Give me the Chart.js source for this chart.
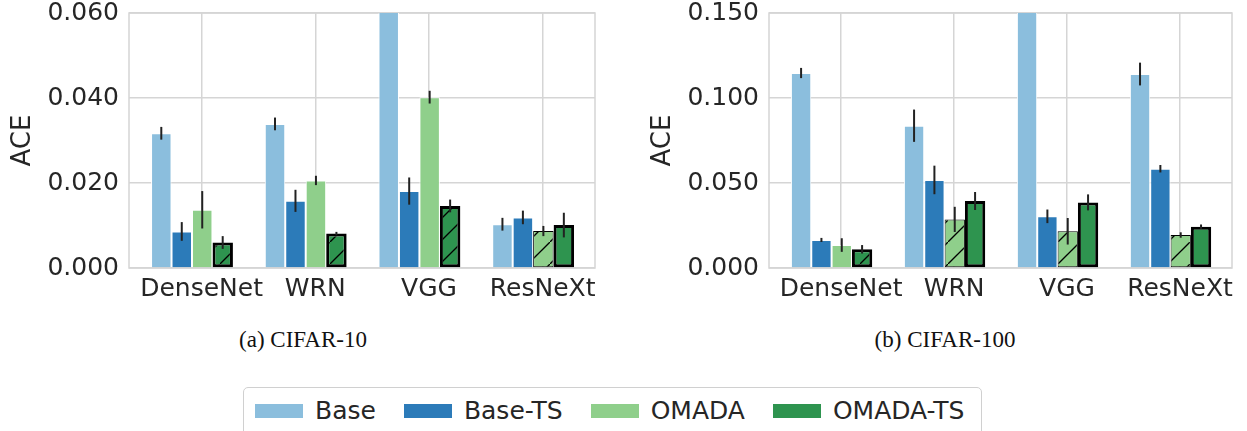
<!DOCTYPE html>
<html>
<head>
<meta charset="utf-8">
<script src="https://cdn.jsdelivr.net/npm/chart.js@4"></script>
<style>
  body { margin: 0; background: #fff; }
  #wrap { position: relative; width: 1247px; height: 431px; overflow: hidden; }
  canvas { position: absolute; top: 0; }
  .caption { position: absolute; top: 327px; font-family: "Liberation Serif", serif; font-size: 23px; color: #111; transform: translateX(-50%); white-space: nowrap; }
  #legend { position: absolute; left: 243px; top: 387px; width: 739px; height: 60px; border: 1.5px solid #d0d0d0; border-radius: 5px; box-sizing: border-box;
            display: flex; align-items: flex-start; padding: 8px 0 0 11px; font-family: "DejaVu Sans", sans-serif; font-size: 25px; color: #262626; white-space: nowrap; }
  .item { display: flex; align-items: center; flex-shrink: 0; margin-right: 28px; line-height: 30px; }
  .sw { width: 48px; height: 14px; margin-right: 12px; flex-shrink: 0; }
</style>
</head>
<body>
<div id="wrap">
  <canvas id="c10" width="610" height="310" style="left:0"></canvas>
  <canvas id="c100" width="607" height="310" style="left:640px"></canvas>
  <div class="caption" style="left:303px">(a) CIFAR-10</div>
  <div class="caption" style="left:945px">(b) CIFAR-100</div>
  <div id="legend"></div>
</div>
<script>
const models = ['DenseNet', 'WRN', 'VGG', 'ResNeXt'];
const seriesNames = ['Base', 'Base-TS', 'OMADA', 'OMADA-TS'];
const seriesColors = ['#8bbedd', '#2c7bb9', '#8fcf8b', '#2e944f'];

// CIFAR-10
const c10Base = [0.0317, 0.0339, 0.0900, 0.0103];
const c10BaseTS = [0.0086, 0.0158, 0.0181, 0.0119];
const c10Omada = [0.0137, 0.0206, 0.0402, 0.0087];
const c10OmadaTS = [0.0060, 0.0081, 0.0146, 0.0101];
const c10BaseErr = [0.0015, 0.0015, 0.0030, 0.0015];
const c10BaseTSErr = [0.0022, 0.0026, 0.0032, 0.0016];
const c10OmadaErr = [0.0044, 0.0011, 0.0015, 0.0012];
const c10OmadaTSErr = [0.0015, 0.0004, 0.0015, 0.0029];
const c10Ticks = [0, 0.02, 0.04, 0.06];

// CIFAR-100
const c100Base = [0.1147, 0.0837, 0.2000, 0.1141];
const c100BaseTS = [0.0165, 0.0518, 0.0304, 0.0584];
const c100Omada = [0.0135, 0.0286, 0.0216, 0.0194];
const c100OmadaTS = [0.0110, 0.0394, 0.0386, 0.0243];
const c100BaseErr = [0.0030, 0.0095, 0.0100, 0.0067];
const c100BaseTSErr = [0.0012, 0.0084, 0.0040, 0.0022];
const c100OmadaErr = [0.0040, 0.0074, 0.0078, 0.0016];
const c100OmadaTSErr = [0.0025, 0.0053, 0.0047, 0.0013];
const c100Ticks = [0, 0.05, 0.10, 0.15];

const FONT = '"DejaVu Sans", sans-serif';
const TEXT = '#262626';
const GRID = '#d5d5d5';

function hatch(color) {
    const c = document.createElement('canvas');
    c.width = c.height = 22;
    const g = c.getContext('2d');
    g.fillStyle = color;
    g.fillRect(0, 0, 22, 22);
    g.strokeStyle = '#000';
    g.lineWidth = 1.3;
    g.beginPath();
    g.moveTo(-2, 24); g.lineTo(24, -2);
    g.stroke();
    return g.createPattern(c, 'repeat');
}

// error bars drawn from dataset.errors
const errorBars = {
    id: 'errorBars',
    afterDatasetsDraw(chart) {
        const ctx = chart.ctx, a = chart.chartArea, y = chart.scales.y;
        ctx.save();
        ctx.beginPath();
        ctx.rect(a.left, a.top, a.right - a.left, a.bottom - a.top);
        ctx.clip();
        ctx.strokeStyle = '#222';
        ctx.lineWidth = 2;
        chart.data.datasets.forEach((ds, di) => {
            chart.getDatasetMeta(di).data.forEach((bar, i) => {
                const v = ds.data[i].y, e = ds.errors[i];
                ctx.beginPath();
                ctx.moveTo(bar.x, y.getPixelForValue(v - e));
                ctx.lineTo(bar.x, y.getPixelForValue(v + e));
                ctx.stroke();
            });
        });
        ctx.restore();
    }
};

const frame = {
    id: 'frame',
    beforeDatasetsDraw(chart) {
        const ctx = chart.ctx, a = chart.chartArea;
        ctx.save();
        ctx.strokeStyle = GRID;
        ctx.lineWidth = 1.5;
        ctx.strokeRect(a.left, a.top, a.right - a.left, a.bottom - a.top);
        ctx.restore();
    }
};

function makeChart(id, vals, errs, ticks) {
    const omada = vals[2], omadaTS = vals[3];
    const best = models.map((m, i) => omada[i] < omadaTS[i] ? 2 : 3);
    const datasets = vals.map((v, s) => ({
        label: seriesNames[s],
        data: v.map((y, i) => ({ x: i, y: y })),
        errors: errs[s],
        backgroundColor: v.map((y, i) => best[i] === s ? hatch(seriesColors[s]) : seriesColors[s]),
        borderColor: v.map((y, i) => s === 3 || best[i] === s ? '#000' : '#fff'),
        borderWidth: v.map((y, i) => s === 3 ? 3 : 1),
        borderSkipped: v.map((y, i) => s === 3 || best[i] === s ? false : 'start'),
        categoryPercentage: 0.72,
        barPercentage: 1.0,
        clip: 0
    }));
    return new Chart(document.getElementById(id), {
        type: 'bar',
        data: { datasets },
        options: {
            responsive: false,
            animation: false,
            devicePixelRatio: 1,
            layout: { padding: { top: 13, right: 15, bottom: 0, left: 0 } },
            plugins: { legend: { display: false }, tooltip: { enabled: false } },
            scales: {
                x: {
                    type: 'linear',
                    offset: false,
                    min: -0.554,
                    max: 3.544,
                    afterBuildTicks: (s) => { s.ticks = models.map((m, i) => ({ value: i + 0.084 })); },
                    afterFit: (s) => { s.height = 42; s.paddingLeft = 0; s.paddingRight = 0; },
                    ticks: {
                        callback: (v, i) => models[i],
                        font: { family: FONT, size: 25 },
                        color: TEXT,
                        padding: 6,
                        maxRotation: 0,
                        autoSkip: false
                    },
                    grid: { color: GRID, lineWidth: 1.5, drawTicks: false, offset: false },
                    border: { display: false }
                },
                y: {
                    min: ticks[0],
                    max: ticks[ticks.length - 1],
                    afterBuildTicks: (s) => { s.ticks = ticks.map(t => ({ value: t })); },
                    afterFit: (s) => { s.width = 129; s.paddingTop = 0; s.paddingBottom = 0; },
                    ticks: {
                        callback: (v) => v.toFixed(3),
                        font: { family: FONT, size: 25, lineHeight: 1.0 },
                        color: TEXT,
                        padding: 10
                    },
                    title: {
                        display: true,
                        text: 'ACE',
                        font: { family: FONT, size: 26 },
                        color: TEXT,
                        padding: { top: 8, bottom: 0 }
                    },
                    grid: { color: GRID, lineWidth: 1.5, drawTicks: false },
                    border: { display: false }
                }
            }
        },
        plugins: [frame, errorBars]
    });
}

makeChart('c10', [c10Base, c10BaseTS, c10Omada, c10OmadaTS], [c10BaseErr, c10BaseTSErr, c10OmadaErr, c10OmadaTSErr], c10Ticks);
makeChart('c100', [c100Base, c100BaseTS, c100Omada, c100OmadaTS], [c100BaseErr, c100BaseTSErr, c100OmadaErr, c100OmadaTSErr], c100Ticks);

const legend = document.getElementById('legend');
seriesNames.forEach((name, s) => {
    const item = document.createElement('div');
    item.className = 'item';
    const sw = document.createElement('div');
    sw.className = 'sw';
    sw.style.background = seriesColors[s];
    const label = document.createElement('span');
    label.textContent = name;
    item.appendChild(sw);
    item.appendChild(label);
    legend.appendChild(item);
});
</script>
</body>
</html>
